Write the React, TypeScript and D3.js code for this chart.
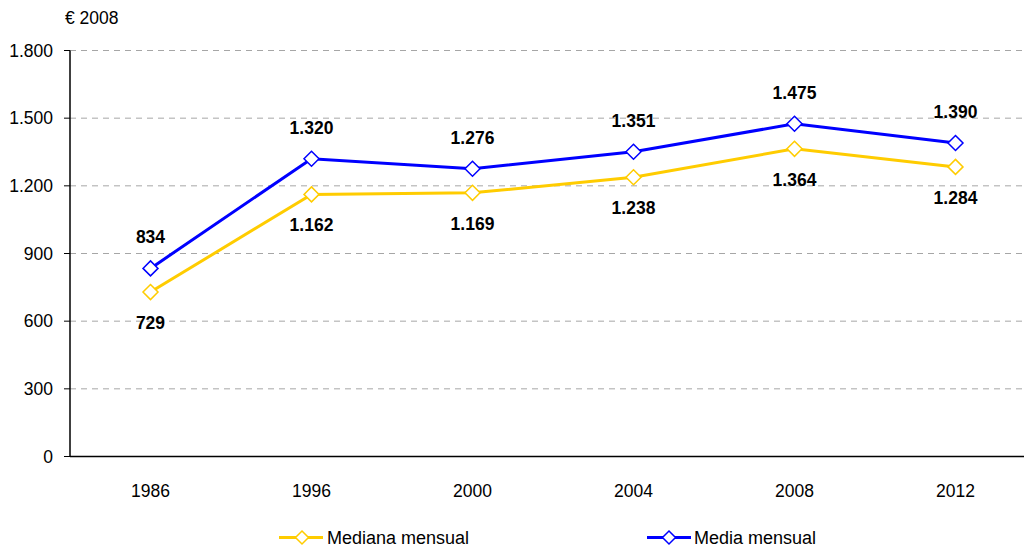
import { scaleBand, scaleLinear, line } from "d3";

const years = ["1986", "1996", "2000", "2004", "2008", "2012"];
const mediana = [729, 1162, 1169, 1238, 1364, 1284];
const media = [834, 1320, 1276, 1351, 1475, 1390];
const yTicks = [0, 300, 600, 900, 1200, 1500, 1800];

const fmt = (v: number) => {
  const s = String(v);
  return s.length > 3 ? s.slice(0, s.length - 3) + "." + s.slice(-3) : s;
};

const App = () => {
  const width = 1024;
  const height = 550;
  const left = 70;
  const right = 1036;
  const top = 50.5;
  const bottom = 456.5;

  const x = scaleBand().domain(years).range([left, right]);
  const y = scaleLinear().domain([0, 1800]).range([bottom, top]);
  const cx = (d: string) => x(d) + x.bandwidth() / 2;

  const path = (vals: number[]) =>
    line<number>()
      .x((_, i) => cx(years[i]))
      .y((v) => y(v))(vals);

  const diamond = (px: number, py: number, r = 7.5) =>
    `M${px},${py - r}L${px + r},${py}L${px},${py + r}L${px - r},${py}Z`;

  const yellow = "#FFCC00";
  const blue = "#0000FF";
  const font = "Liberation Sans, Arial, sans-serif";

  return (
    <svg
      width={width}
      height={height}
      style={{ position: "absolute", left: 0, top: 0, background: "#fff" }}
      fontFamily={font}
    >
      {yTicks.map((t) => (
        <g key={t}>
          {t > 0 && (
            <line
              x1={left}
              x2={width}
              y1={y(t)}
              y2={y(t)}
              stroke="#a6a6a6"
              strokeDasharray="6,5"
            />
          )}
          <line x1={left - 6} x2={left} y1={y(t)} y2={y(t)} stroke="#000" />
          <text
            x={left - 17}
            y={y(t)}
            dy="0.36em"
            textAnchor="end"
            fontSize={17.5}
            fill="#000"
          >
            {fmt(t)}
          </text>
        </g>
      ))}
      <line x1={left} x2={left} y1={top} y2={bottom} stroke="#000" strokeWidth={1.5} />
      <line x1={left} x2={width} y1={bottom} y2={bottom} stroke="#000" strokeWidth={1.5} />
      <text x={65} y={24} fontSize={17.5} fill="#000">
        € 2008
      </text>
      {years.map((yr) => (
        <text
          key={yr}
          x={cx(yr)}
          y={bottom + 40}
          textAnchor="middle"
          fontSize={17.5}
          fill="#000"
        >
          {yr}
        </text>
      ))}

      <path d={path(mediana)} fill="none" stroke={yellow} strokeWidth={3} />
      <path d={path(media)} fill="none" stroke={blue} strokeWidth={3} />
      {mediana.map((v, i) => (
        <g key={"m" + i}>
          <path
            d={diamond(cx(years[i]), y(v))}
            fill="#fff"
            stroke={yellow}
            strokeWidth={1.5}
          />
          <text
            x={cx(years[i])}
            y={y(v) + 37}
            textAnchor="middle"
            fontSize={17.5}
            fontWeight="bold"
            fill="#000"
          >
            {fmt(v)}
          </text>
        </g>
      ))}
      {media.map((v, i) => (
        <g key={"a" + i}>
          <path
            d={diamond(cx(years[i]), y(v))}
            fill="#fff"
            stroke={blue}
            strokeWidth={1.5}
          />
          <text
            x={cx(years[i])}
            y={y(v) - 25}
            textAnchor="middle"
            fontSize={17.5}
            fontWeight="bold"
            fill="#000"
          >
            {fmt(v)}
          </text>
        </g>
      ))}

      <g transform="translate(279,537.5)">
        <line x1={0} x2={44} y1={0} y2={0} stroke={yellow} strokeWidth={3} />
        <path d={diamond(23, 0, 6.5)} fill="#fff" stroke={yellow} strokeWidth={1.5} />
        <text x={48} y={0} dy="0.36em" fontSize={18} fill="#000">
          Mediana mensual
        </text>
      </g>
      <g transform="translate(647,537.5)">
        <line x1={0} x2={44} y1={0} y2={0} stroke={blue} strokeWidth={3} />
        <path d={diamond(22, 0, 6.5)} fill="#fff" stroke={blue} strokeWidth={1.5} />
        <text x={47} y={0} dy="0.36em" fontSize={18} fill="#000">
          Media mensual
        </text>
      </g>
    </svg>
  );
};

export default App;
